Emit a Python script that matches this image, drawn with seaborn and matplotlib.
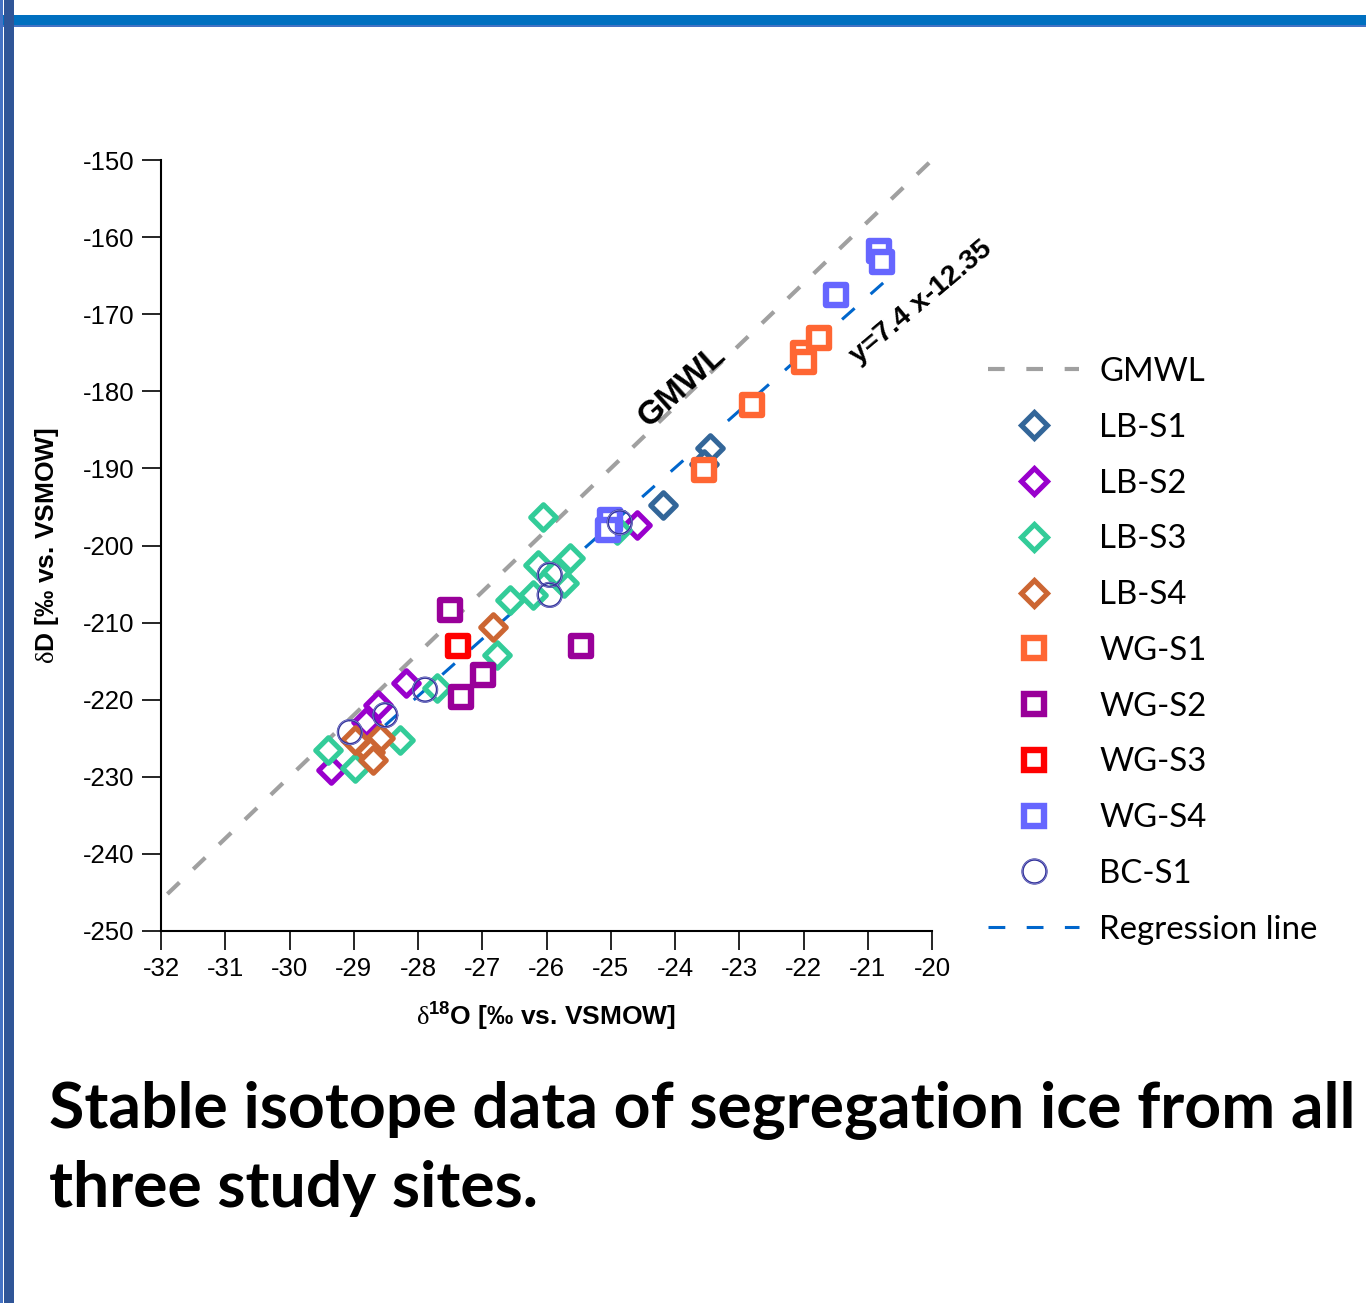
import matplotlib
matplotlib.use("Agg")
import matplotlib.pyplot as plt
from matplotlib.lines import Line2D
from matplotlib.patches import Rectangle
from matplotlib.legend_handler import HandlerTuple
import seaborn as sns
import pandas as pd

# ---------------- data ----------------
lbs1_x = [-24.19, -23.46, -23.55]
lbs1_y = [-194.7, -187.4, -189.4]
lbs2_x = [-24.59, -28.19, -28.62, -28.81, -29.35]
lbs2_y = [-197.3, -217.8, -220.7, -222.9, -229.1]
lbs3_x = [-29.40, -28.98, -28.28, -27.70, -26.77, -26.57, -26.21, -26.13, -26.05, -25.63, -25.73, -25.85, -24.90]
lbs3_y = [-226.5, -228.9, -225.2, -218.5, -214.2, -207.1, -206.4, -202.5, -196.3, -201.6, -204.9, -203.5, -198.0]
lbs4_x = [-26.83, -28.98, -28.59, -28.75, -28.70]
lbs4_y = [-210.6, -225.2, -225.0, -226.8, -227.8]
wgs1_x = [-23.55, -22.80, -22.01, -22.00, -21.76]
wgs1_y = [-190.2, -181.8, -175.0, -176.2, -173.1]
wgs2_x = [-27.50, -26.99, -27.33, -25.46]
wgs2_y = [-208.4, -216.8, -219.6, -213.0]
wgs3_x = [-27.38]
wgs3_y = [-213.0]
wgs4_x = [-20.82, -20.78, -21.49, -25.01, -25.04]
wgs4_y = [-161.8, -163.2, -167.5, -196.7, -198.0]
bcs1_x = [-24.86, -25.95, -25.95, -27.89, -28.51, -29.06]
bcs1_y = [-197.0, -203.8, -206.4, -218.7, -222.0, -224.2]

gmwl_x = [-31.9, -20.0]
gmwl_y = [-245.2, -150.0]
reg_x = [-29.4, -20.7]
reg_y = [-229.9, -165.5]

x_ticks = [-32, -31, -30, -29, -28, -27, -26, -25, -24, -23, -22, -21, -20]
y_ticks = [-150, -160, -170, -180, -190, -200, -210, -220, -230, -240, -250]

series_names = ["LB-S1", "LB-S2", "LB-S3", "LB-S4", "WG-S1", "WG-S2", "WG-S3", "WG-S4", "BC-S1"]
series_x = [lbs1_x, lbs2_x, lbs3_x, lbs4_x, wgs1_x, wgs2_x, wgs3_x, wgs4_x, bcs1_x]
series_y = [lbs1_y, lbs2_y, lbs3_y, lbs4_y, wgs1_y, wgs2_y, wgs3_y, wgs4_y, bcs1_y]
series_colors = ["#336699", "#9900CC", "#33CC99", "#CC6633", "#FF6633", "#990099", "#FF0000", "#6666FF", "#333399"]
series_markers = ["D", "D", "D", "D", "s", "s", "s", "s", "o"]

rows = []
for n, xs, ys in zip(series_names, series_x, series_y):
    for a, b in zip(xs, ys):
        rows.append({"series": n, "x": a, "y": b})
df = pd.DataFrame(rows)

# ---------------- style ----------------
sns.set_style("ticks")
plt.rcParams["font.family"] = ["Liberation Sans", "DejaVu Sans"]
plt.rcParams["text.color"] = "black"
plt.rcParams["axes.labelcolor"] = "black"
plt.rcParams["xtick.color"] = "black"
plt.rcParams["ytick.color"] = "black"
plt.rcParams["mathtext.fontset"] = "custom"
plt.rcParams["mathtext.rm"] = "Liberation Serif"
plt.rcParams["mathtext.bf"] = "Liberation Sans:bold"

W, H = 1366, 1303
fig = plt.figure(figsize=(W / 100, H / 100), dpi=100)
ax = fig.add_axes([161 / W, 1 - 931 / H, (932 - 161) / W, (931 - 160) / H])

GMWL_C = "#A0A0A0"
REG_C = "#0066CC"

sns.lineplot(x=gmwl_x, y=gmwl_y, ax=ax, color=GMWL_C, linewidth=3.0,
             linestyle=(0, (4.0, 4.6)), zorder=1)
sns.lineplot(x=reg_x, y=reg_y, ax=ax, color=REG_C, linewidth=2.2,
             linestyle=(0, (5.5, 7.0)), zorder=1)

DIAM_MS, DIAM_LW = 13.0, 3.7
SQ_MS, SQ_LW = 14.2, 4.6
for n, c, m in zip(series_names, series_colors, series_markers):
    sub = df[df["series"] == n]
    if m == "D":
        sns.scatterplot(data=sub, x="x", y="y", ax=ax, marker="D", s=DIAM_MS ** 2,
                        color="white", edgecolor=c, linewidth=DIAM_LW, zorder=3, legend=False)
    elif m == "s":
        sns.scatterplot(data=sub, x="x", y="y", ax=ax, marker="s", s=SQ_MS ** 2,
                        color="white", edgecolor=c, linewidth=SQ_LW, zorder=3, legend=False)
    else:
        sns.scatterplot(data=sub, x="x", y="y", ax=ax, marker="o", s=18.0 ** 2,
                        color="none", edgecolor=c, linewidth=0.9, zorder=4, legend=False)
        sns.scatterplot(data=sub, x="x", y="y", ax=ax, marker="o", s=17.2 ** 2,
                        color="none", edgecolor="#9999DD", linewidth=1.0, zorder=4, legend=False)
        sns.scatterplot(data=sub, x="x", y="y", ax=ax, marker="o", s=16.4 ** 2,
                        color="none", edgecolor=c, linewidth=0.9, zorder=4, legend=False)

ax.set_xlim(-32, -20)
ax.set_ylim(-250, -150)
ax.set_xticks(x_ticks)
ax.set_yticks(y_ticks)
ax.set_xticklabels([str(t) for t in x_ticks])
ax.set_yticklabels([str(t) for t in y_ticks])
sns.despine(ax=ax)
for s in ["left", "bottom"]:
    ax.spines[s].set_linewidth(1.5)
    ax.spines[s].set_color("black")
ax.tick_params(axis="both", which="major", length=14, width=1.2, color="black",
               labelsize=18.5, pad=5, direction="out")
ax.set_xlabel(r"$\mathrm{\delta}^{\mathbf{18}}$O [‰ vs. VSMOW]", fontsize=19,
              fontweight="bold", labelpad=13)
ax.set_ylabel(r"$\mathrm{\delta}$D [‰ vs. VSMOW]", fontsize=19,
              fontweight="bold", labelpad=16)

ax.text(-23.88, -179.4, "GMWL", rotation=42, rotation_mode="anchor", ha="center",
        va="center", fontsize=24, fontweight="bold")
ax.text(-20.17, -168.5, "y=7.4 x-12.35", rotation=40, rotation_mode="anchor", ha="center",
        va="center", fontsize=20.5, fontweight="bold")

# ---------------- legend ----------------
handles = [Line2D([], [], color=GMWL_C, linewidth=3.0, linestyle=(0, (4.0, 5.2)))]
labels = ["GMWL"]
for n, c, m in zip(series_names, series_colors, series_markers):
    if m == "D":
        handles.append(Line2D([], [], linestyle="none", marker="D", markersize=DIAM_MS,
                              markerfacecolor="white", markeredgecolor=c, markeredgewidth=DIAM_LW))
    elif m == "s":
        handles.append(Line2D([], [], linestyle="none", marker="s", markersize=SQ_MS,
                              markerfacecolor="white", markeredgecolor=c, markeredgewidth=SQ_LW))
    else:
        handles.append((Line2D([], [], linestyle="none", marker="o", markersize=18.0,
                               markerfacecolor="none", markeredgecolor=c, markeredgewidth=0.9),
                        Line2D([], [], linestyle="none", marker="o", markersize=17.2,
                               markerfacecolor="none", markeredgecolor="#9999DD", markeredgewidth=1.0),
                        Line2D([], [], linestyle="none", marker="o", markersize=16.4,
                               markerfacecolor="none", markeredgecolor=c, markeredgewidth=0.9)))
    labels.append(n)
handles.append(Line2D([], [], color=REG_C, linewidth=2.2, linestyle=(0, (5.5, 7.0))))
labels.append("Regression line")

leg = ax.legend(handles, labels, loc="upper left",
                bbox_to_anchor=(988 / W, 1 - 357 / H), bbox_transform=fig.transFigure,
                frameon=False, borderpad=0, borderaxespad=0, handlelength=2.76,
                handletextpad=0.61, labelspacing=0.78,
                prop={"family": "Lato", "size": 23.8},
                handler_map={tuple: HandlerTuple(ndivide=1, pad=0)})

# ---------------- caption & frame ----------------
fig.text(49 / W, 1 - 1127 / H, "Stable isotope data of segregation ice from all",
         fontsize=46.4, fontweight="bold", family="Lato", va="baseline", ha="left", color="black")
fig.text(49 / W, 1 - 1207 / H, "three study sites.",
         fontsize=46.4, fontweight="bold", family="Lato", va="baseline", ha="left", color="black")

fig.add_artist(Rectangle((0, 1 - 27 / H), 1, 12 / H, transform=fig.transFigure,
                         facecolor="#0070C0", edgecolor="none", zorder=10))
fig.add_artist(Rectangle((0, 1 - 27 / H), 1, 2 / H, transform=fig.transFigure,
                         facecolor="#4472C4", edgecolor="none", zorder=10))
fig.add_artist(Rectangle((0, 0), 3 / W, 1, transform=fig.transFigure,
                         facecolor="#4472C4", edgecolor="none", zorder=11))
fig.add_artist(Rectangle((4 / W, 0), 10 / W, 1, transform=fig.transFigure,
                         facecolor="#2F5597", edgecolor="none", zorder=11))

fig.savefig("out.png", dpi=100, facecolor="white")
